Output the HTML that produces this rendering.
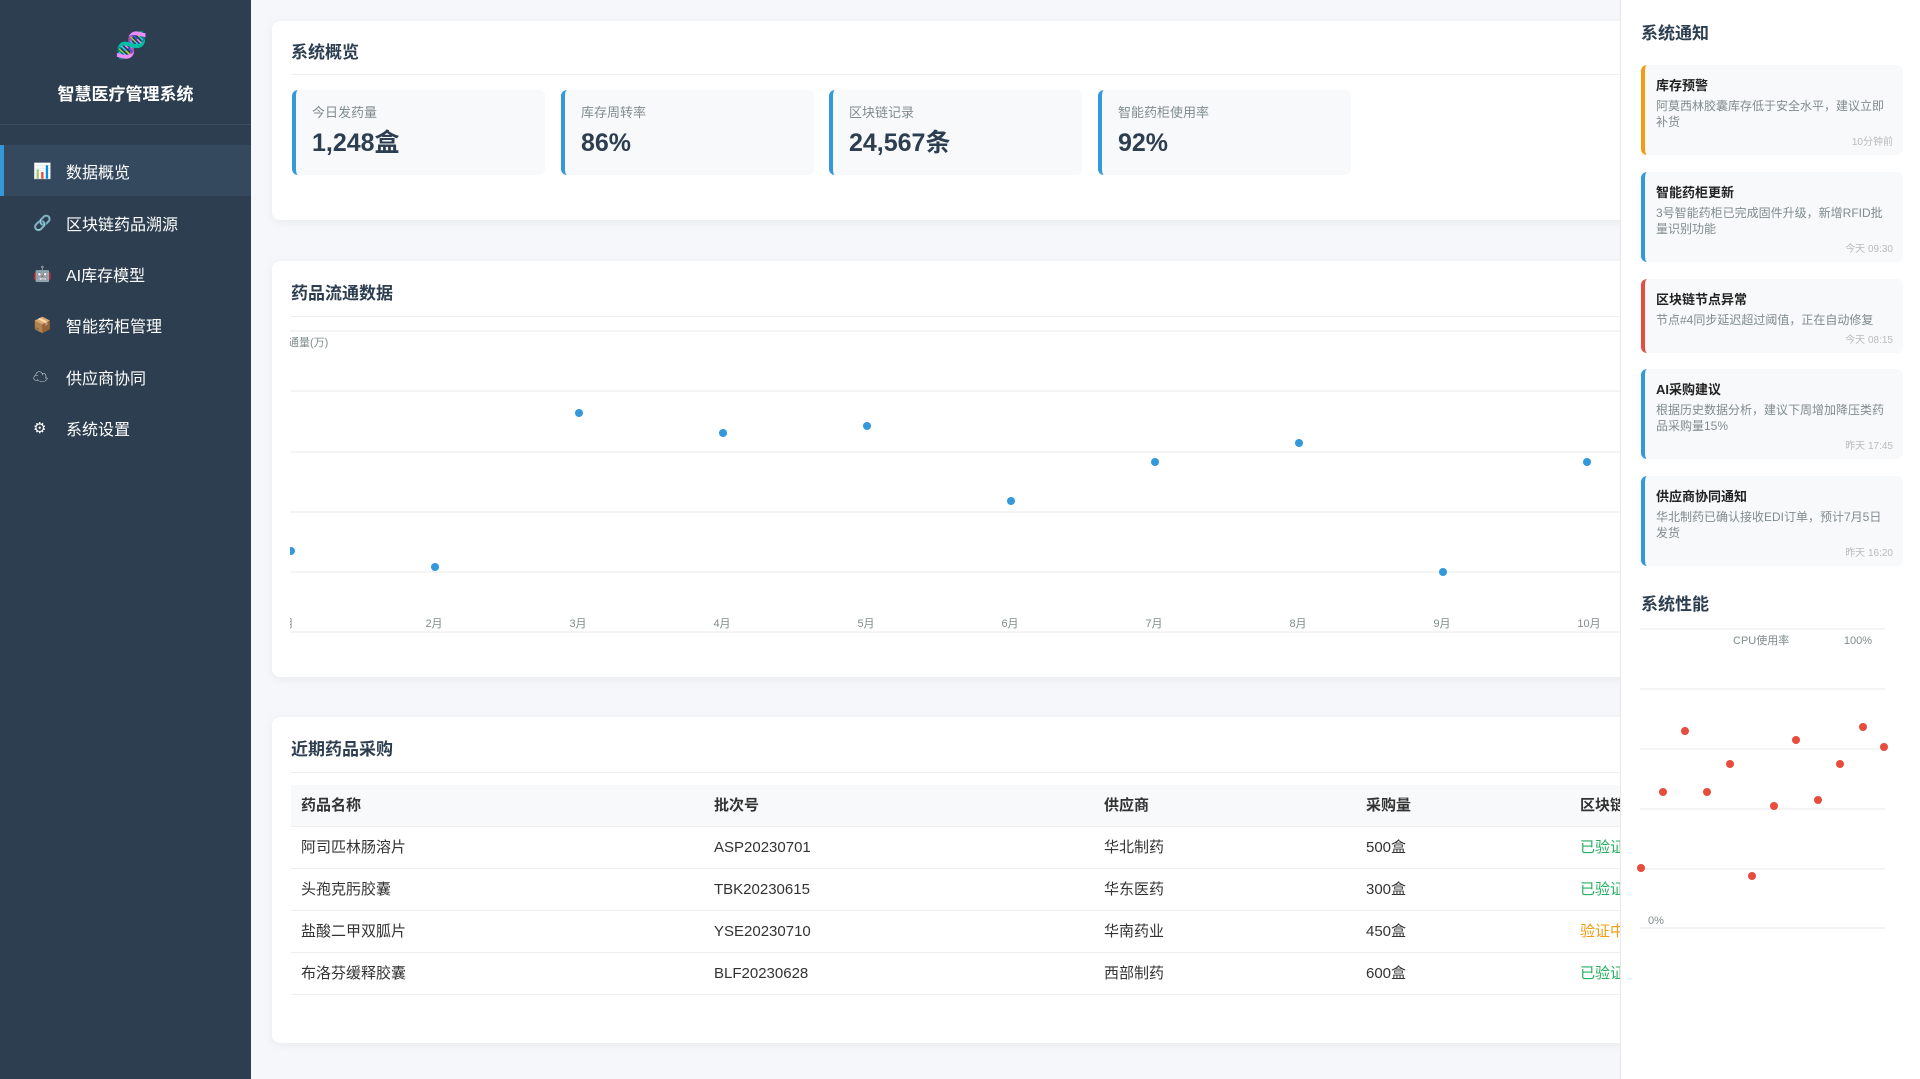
<!DOCTYPE html>
<html><head><meta charset="utf-8"><style>
*{margin:0;padding:0;box-sizing:border-box}
body{width:1920px;height:1079px;overflow:hidden;background:#f5f7fa;font-family:"Liberation Sans","Noto Sans CJK SC",sans-serif;position:relative;color:#2c3e50}
.abs{position:absolute;white-space:nowrap}
.side{left:0;top:0;width:251px;height:1079px;background:#2c3e50}
.nav{position:absolute;left:0;width:251px;height:51px;color:#fff;font-size:16px;display:flex;align-items:center;padding-left:66px}
.nav i{position:absolute;left:33px;font-style:normal;font-size:15px}
.card{background:#fff;border-radius:8px;box-shadow:0 2px 10px rgba(0,0,0,.06)}
.h{font-size:17px;font-weight:bold;color:#2c3e50;line-height:24px}
.stat{position:absolute;top:90px;width:253px;height:85px;background:#f8f9fa;border-left:4px solid #3498db;border-radius:6px;padding:14px 0 0 16px}
.stat .l{font-size:13px;color:#7f8c8d;line-height:18px}
.stat .v{font-size:25px;font-weight:bold;margin-top:4px;line-height:34px;height:34px}
.note{position:absolute;left:1641px;width:262px;background:#f8f9fa;border-radius:6px;border-left:4px solid #3498db;padding:10px 18px 0 11px}
.note b{font-size:13px;display:block;color:#222}
.note p{font-size:12px;color:#7f8c8d;line-height:16px;margin-top:4px}
.note s{text-decoration:none;position:absolute;right:10px;bottom:7px;font-size:10px;color:#bbb}
.t{line-height:20px}
</style></head><body>
<div class="abs side">
<div class="abs" style="left:115px;top:30px;font-size:26px;color:#3498db">🧬</div>
<div class="abs" style="left:0;width:251px;top:80px;text-align:center;color:#fff;font-size:17px;font-weight:bold">智慧医疗管理系统</div>
<div class="abs" style="left:0;top:124px;width:251px;height:1px;background:#3b4d60"></div>
<div class="nav" style="top:145px;background:#34495e;border-left:4px solid #3498db;padding-left:62px"><i style="left:29px">📊</i>数据概览</div>
<div class="nav" style="top:197px"><i>🔗</i>区块链药品溯源</div>
<div class="nav" style="top:248px"><i>🤖</i>AI库存模型</div>
<div class="nav" style="top:299px"><i>📦</i>智能药柜管理</div>
<div class="nav" style="top:351px"><i>☁</i>供应商协同</div>
<div class="nav" style="top:402px"><i>⚙</i>系统设置</div>
</div>

<div class="abs card" style="left:272px;top:21px;width:1400px;height:199px"></div>
<div class="abs h" style="left:291px;top:41px">系统概览</div>
<div class="abs" style="left:291px;top:74px;width:1340px;height:1px;background:#eee"></div>
<div class="stat" style="left:292px"><div class="l">今日发药量</div><div class="v">1,248盒</div></div>
<div class="stat" style="left:561px"><div class="l">库存周转率</div><div class="v">86%</div></div>
<div class="stat" style="left:829px"><div class="l">区块链记录</div><div class="v">24,567条</div></div>
<div class="stat" style="left:1098px"><div class="l">智能药柜使用率</div><div class="v">92%</div></div>

<div class="abs card" style="left:272px;top:261px;width:1400px;height:416px"></div>
<div class="abs h" style="left:291px;top:282px">药品流通数据</div>
<div class="abs" style="left:291px;top:316px;width:1340px;height:1px;background:#eee"></div>
<svg class="abs" style="left:0;top:0" width="1620" height="1079">
<defs><clipPath id="c"><rect x="290" y="320" width="1330" height="330"/></clipPath></defs>
<g clip-path="url(#c)">
<g stroke="#f0f0f0" stroke-width="1.5">
<line x1="290" x2="1622" y1="331" y2="331"/><line x1="290" x2="1622" y1="391" y2="391"/><line x1="290" x2="1622" y1="452" y2="452"/><line x1="290" x2="1622" y1="512" y2="512"/><line x1="290" x2="1622" y1="572" y2="572"/><line x1="290" x2="1622" y1="632" y2="632"/></g>
<text x="277" y="346" font-size="11" fill="#7f8c8d">流通量(万)</text>
<g font-size="11" fill="#7f8c8d" text-anchor="middle">
<text x="285" y="627">1月</text><text x="434" y="627">2月</text><text x="578" y="627">3月</text><text x="722" y="627">4月</text><text x="866" y="627">5月</text><text x="1010" y="627">6月</text><text x="1154" y="627">7月</text><text x="1298" y="627">8月</text><text x="1442" y="627">9月</text><text x="1589" y="627">10月</text></g>
<g fill="#3498db">
<circle cx="291" cy="551" r="4"/><circle cx="435" cy="567" r="4"/><circle cx="579" cy="413" r="4"/><circle cx="723" cy="433" r="4"/><circle cx="867" cy="426" r="4"/><circle cx="1011" cy="501" r="4"/><circle cx="1155" cy="462" r="4"/><circle cx="1299" cy="443" r="4"/><circle cx="1443" cy="572" r="4"/><circle cx="1587" cy="462" r="4"/></g>
</g>
</svg>

<div class="abs card" style="left:272px;top:717px;width:1400px;height:326px"></div>
<div class="abs h" style="left:291px;top:738px">近期药品采购</div>
<div class="abs" style="left:291px;top:772px;width:1340px;height:1px;background:#eee"></div>
<div class="abs" style="left:291px;top:785px;width:1331px;height:42px;background:#f8f9fa;border-bottom:1px solid #eee"></div>
<div class="abs" style="left:291px;top:868px;width:1331px;height:1px;background:#eee"></div>
<div class="abs" style="left:291px;top:910px;width:1331px;height:1px;background:#eee"></div>
<div class="abs" style="left:291px;top:952px;width:1331px;height:1px;background:#eee"></div>
<div class="abs" style="left:291px;top:994px;width:1331px;height:1px;background:#eee"></div>
<div class="abs" style="left:0;top:0;width:1620px;height:1079px;overflow:hidden;font-size:15px;color:#333">
<div class="abs t" style="top:796px;left:301px;font-weight:bold">药品名称</div><div class="abs t" style="top:796px;left:714px;font-weight:bold">批次号</div><div class="abs t" style="top:796px;left:1104px;font-weight:bold">供应商</div><div class="abs t" style="top:796px;left:1366px;font-weight:bold">采购量</div><div class="abs t" style="top:796px;left:1580px;font-weight:bold">区块链状态</div>
<div class="abs t" style="top:838px;left:301px">阿司匹林肠溶片</div><div class="abs t" style="top:838px;left:714px">ASP20230701</div><div class="abs t" style="top:838px;left:1104px">华北制药</div><div class="abs t" style="top:838px;left:1366px">500盒</div><div class="abs t" style="top:838px;left:1580px;color:#27ae60">已验证</div>
<div class="abs t" style="top:880px;left:301px">头孢克肟胶囊</div><div class="abs t" style="top:880px;left:714px">TBK20230615</div><div class="abs t" style="top:880px;left:1104px">华东医药</div><div class="abs t" style="top:880px;left:1366px">300盒</div><div class="abs t" style="top:880px;left:1580px;color:#27ae60">已验证</div>
<div class="abs t" style="top:922px;left:301px">盐酸二甲双胍片</div><div class="abs t" style="top:922px;left:714px">YSE20230710</div><div class="abs t" style="top:922px;left:1104px">华南药业</div><div class="abs t" style="top:922px;left:1366px">450盒</div><div class="abs t" style="top:922px;left:1580px;color:#f39c12">验证中</div>
<div class="abs t" style="top:964px;left:301px">布洛芬缓释胶囊</div><div class="abs t" style="top:964px;left:714px">BLF20230628</div><div class="abs t" style="top:964px;left:1104px">西部制药</div><div class="abs t" style="top:964px;left:1366px">600盒</div><div class="abs t" style="top:964px;left:1580px;color:#27ae60">已验证</div>
</div>

<div class="abs" style="left:1620px;top:0;width:300px;height:1079px;background:#fff;border-left:1px solid #e8e8e8"></div>
<div class="abs h" style="left:1641px;top:22px">系统通知</div>
<div class="note" style="top:65px;height:90px;border-left-color:#f39c12"><b>库存预警</b><p style="white-space:normal">阿莫西林胶囊库存低于安全水平，建议立即补货</p><s>10分钟前</s></div>
<div class="note" style="top:172px;height:90px"><b>智能药柜更新</b><p style="white-space:normal">3号智能药柜已完成固件升级，新增RFID批量识别功能</p><s>今天 09:30</s></div>
<div class="note" style="top:279px;height:74px;border-left-color:#e74c3c"><b>区块链节点异常</b><p>节点#4同步延迟超过阈值，正在自动修复</p><s>今天 08:15</s></div>
<div class="note" style="top:369px;height:90px"><b>AI采购建议</b><p style="white-space:normal">根据历史数据分析，建议下周增加降压类药品采购量15%</p><s>昨天 17:45</s></div>
<div class="note" style="top:476px;height:90px"><b>供应商协同通知</b><p style="white-space:normal">华北制药已确认接收EDI订单，预计7月5日发货</p><s>昨天 16:20</s></div>
<div class="abs h" style="left:1641px;top:593px">系统性能</div>
<svg class="abs" style="left:1620px;top:0" width="300" height="1079">
<g stroke="#f0f0f0" stroke-width="1.5">
<line x1="20" x2="265" y1="629" y2="629"/><line x1="20" x2="265" y1="689" y2="689"/><line x1="20" x2="265" y1="749" y2="749"/><line x1="20" x2="265" y1="809" y2="809"/><line x1="20" x2="265" y1="869" y2="869"/><line x1="20" x2="265" y1="928" y2="928"/></g>
<text x="113" y="644" font-size="11" fill="#7f8c8d">CPU使用率</text>
<text x="238" y="644" font-size="11" fill="#7f8c8d" text-anchor="middle">100%</text>
<text x="36" y="924" font-size="11" fill="#7f8c8d" text-anchor="middle">0%</text>
<g fill="#e74c3c">
<circle cx="21" cy="868" r="4"/><circle cx="43" cy="792" r="4"/><circle cx="65" cy="731" r="4"/><circle cx="87" cy="792" r="4"/><circle cx="110" cy="764" r="4"/><circle cx="132" cy="876" r="4"/><circle cx="154" cy="806" r="4"/><circle cx="176" cy="740" r="4"/><circle cx="198" cy="800" r="4"/><circle cx="220" cy="764" r="4"/><circle cx="243" cy="727" r="4"/><circle cx="264" cy="747" r="4"/></g>
</svg>
</body></html>
